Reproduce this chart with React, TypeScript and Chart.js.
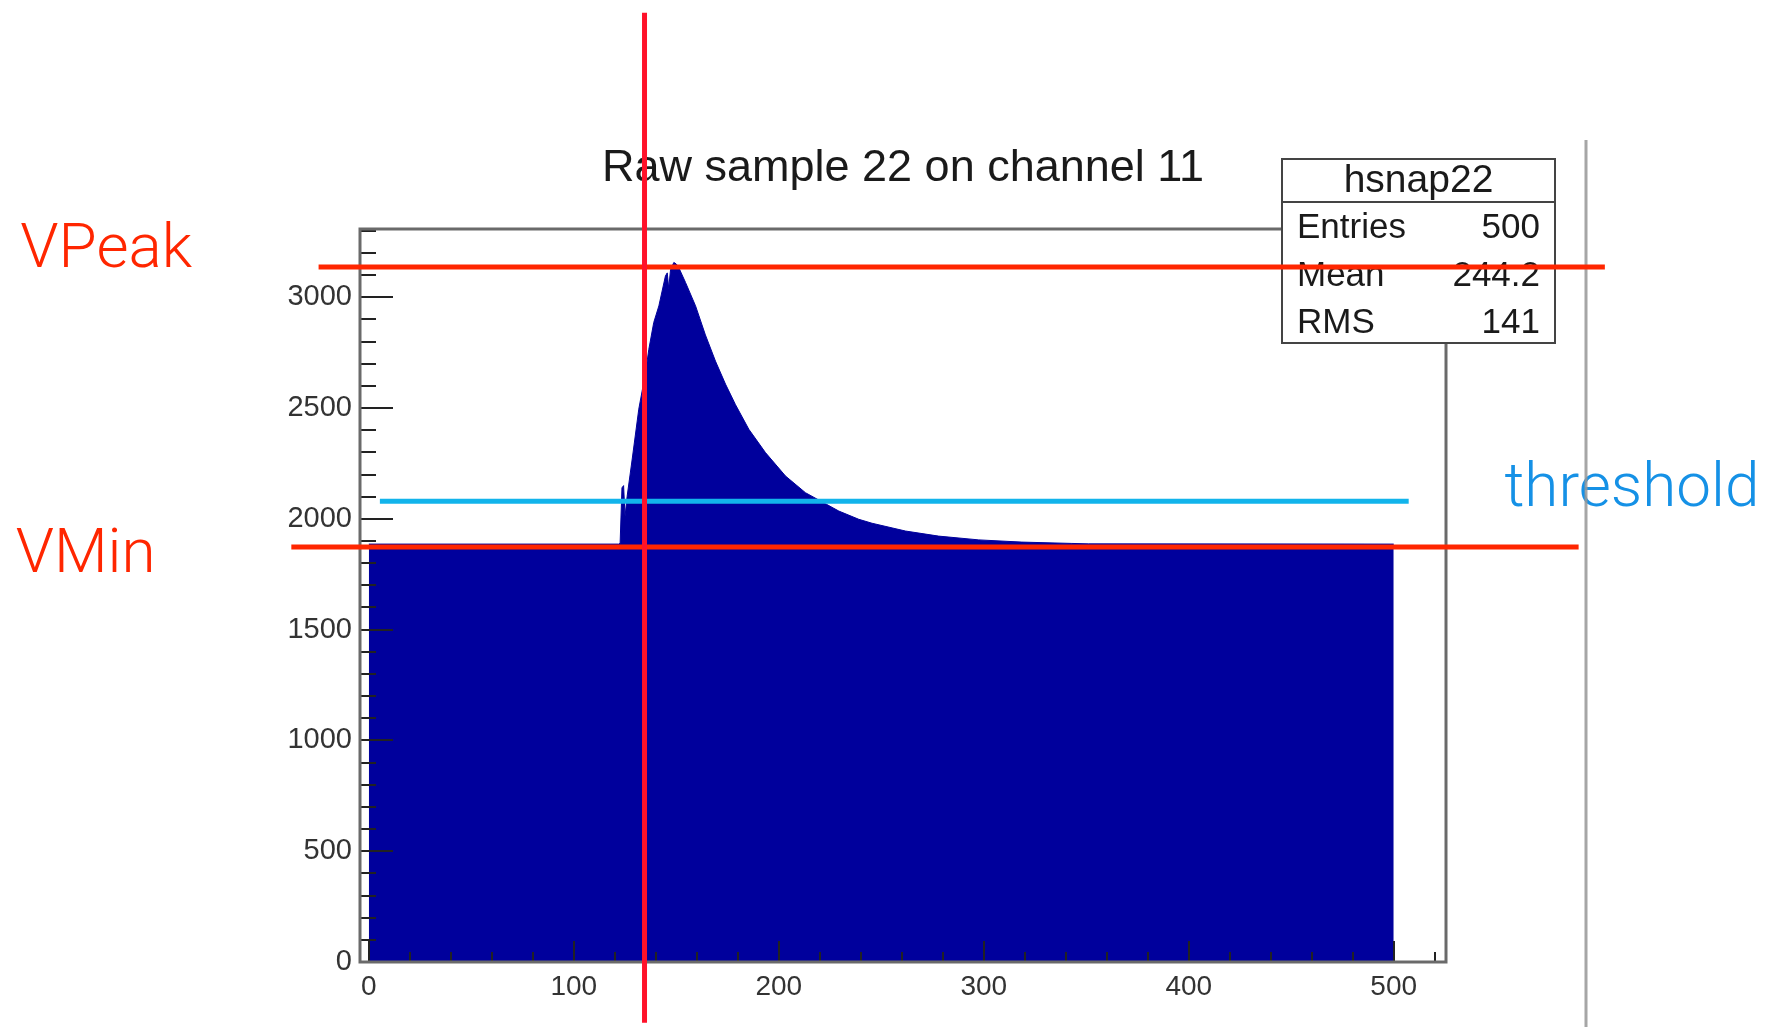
import React, { useEffect, useRef } from 'react';
import { Chart, registerables } from 'chart.js';

Chart.register(...registerables);

// ---- data (sample index vs ADC counts) ----
const sampleX = [
  0, 122, 122.6, 123.5, 124.3, 125, 126, 128.5, 131.7, 135, 136.6, 139, 141.5,
  144.7, 145.6, 146.3, 147.2, 148.8, 150, 151.2, 154.5, 159.4, 164.2, 169.1,
  174, 178.9, 185.4, 193.5, 203.3, 213, 222.8, 229.3, 239, 245.5, 261.8, 278,
  297.6, 318.6, 343, 351, 500,
];
const adcCounts = [
  1886, 1886, 1890, 2140, 2150, 2010, 2100, 2270, 2495, 2660, 2765, 2886, 2961,
  3096, 3110, 3040, 3125, 3157, 3150, 3134, 3067, 2961, 2830, 2712, 2608, 2515,
  2404, 2299, 2193, 2118, 2068, 2035, 1998, 1980, 1945, 1922, 1905, 1895, 1889,
  1887, 1886,
];

const xRange = [-4.3, 525.5];
const yRange = [0, 3308];
const xMinorStep = 20;
const yMinorStep = 100;
const xTickLabels = [0, 100, 200, 300, 400, 500];
const yTickLabels = [0, 500, 1000, 1500, 2000, 2500, 3000];

const chartTitle = 'Raw sample 22 on channel 11';
const statsTitle = 'hsnap22';
const statsNames = ['Entries', 'Mean', 'RMS'];
const statsValues = ['500', '244.2', '141'];

// annotation levels (data units)
const vPeakLevel = 3136;
const vMinLevel = 1873;
const thresholdLevel = 2079;
const peakSample = 134.5;
// extents of the hand-drawn annotation lines (data units)
const vPeakSpan = [-24.5, 603];
const vMinSpan = [-37.8, 590.2];
const thresholdSpan = [5.4, 507.3];
const peakSampleSpan = [-274, 4284];
// annotation label anchors (data units)
const labelNames = ['VPeak', 'VMin', 'threshold'];
const labelX = [-170, -172.3, 554];
const labelY = [3136, 1758, 2059];

const HIST_BLUE = '#00009c';
const RED_H = 'rgb(255,38,0)';
const RED_V = 'rgb(255,18,42)';
const CYAN = 'rgb(18,180,235)';
const LABEL_BLUE = 'rgb(21,145,230)';
const SANS = '"Liberation Sans", Arial, Helvetica, sans-serif';
const LIGHT = '300 62px Roboto, "Open Sans", Lato, sans-serif';

const isMult = (v: number, s: number) => Math.abs(v / s - Math.round(v / s)) < 1e-6;

const stepTicks = (s: any, step: number) => {
  const out: any[] = [];
  const start = Math.ceil(s.min / step - 1e-9);
  const end = Math.floor(s.max / step + 1e-9);
  for (let k = start; k <= end; k++) out.push({ value: k * step });
  s.ticks = out;
};

const rootPlugin = {
  id: 'rootStyle',
  afterDatasetsDraw(chart: any) {
    const { ctx, chartArea: a, scales } = chart;
    const x = scales.x;
    const y = scales.y;
    ctx.save();
    ctx.strokeStyle = '#222';
    ctx.lineWidth = 2;
    y.ticks.forEach((t: any) => {
      const py = Math.round(y.getPixelForValue(t.value));
      const len = isMult(t.value, 500) ? 33 : 16;
      ctx.beginPath();
      ctx.moveTo(a.left, py);
      ctx.lineTo(a.left + len, py);
      ctx.stroke();
    });
    x.ticks.forEach((t: any) => {
      const px = Math.round(x.getPixelForValue(t.value));
      const len = isMult(t.value, 100) ? 21 : 10;
      ctx.beginPath();
      ctx.moveTo(px, a.bottom);
      ctx.lineTo(px, a.bottom - len);
      ctx.stroke();
    });
    // frame
    ctx.strokeStyle = '#6a6a6a';
    ctx.lineWidth = 3;
    ctx.strokeRect(a.left, a.top, a.right - a.left, a.bottom - a.top);
    ctx.restore();
  },
  afterDraw(chart: any) {
    const { ctx, chartArea: a, scales } = chart;
    const x = scales.x;
    const y = scales.y;
    ctx.save();

    // title
    ctx.fillStyle = '#1a1a1a';
    ctx.font = `45px ${SANS}`;
    ctx.textAlign = 'center';
    ctx.textBaseline = 'alphabetic';
    ctx.fillText(chartTitle, (a.left + a.right) / 2, a.top - 48);

    // stats box
    const bx = a.right - 164;
    const by = a.top - 70;
    const bw = 273;
    const bh = 184;
    ctx.fillStyle = '#fff';
    ctx.fillRect(bx, by, bw, bh);
    ctx.strokeStyle = '#444';
    ctx.lineWidth = 2;
    ctx.strokeRect(bx, by, bw, bh);
    ctx.beginPath();
    ctx.moveTo(bx, by + 43);
    ctx.lineTo(bx + bw, by + 43);
    ctx.stroke();
    ctx.fillStyle = '#1a1a1a';
    ctx.font = `39px ${SANS}`;
    ctx.textAlign = 'center';
    ctx.fillText(statsTitle, bx + bw / 2, by + 33);
    ctx.font = `35px ${SANS}`;
    statsNames.forEach((n, i) => {
      const base = by + 79 + i * 47.5;
      ctx.textAlign = 'left';
      ctx.fillText(n, bx + 15, base);
      ctx.textAlign = 'right';
      ctx.fillText(statsValues[i], bx + bw - 15, base);
    });

    // annotation labels
    ctx.font = LIGHT;
    ctx.textAlign = 'left';
    ctx.textBaseline = 'alphabetic';
    labelNames.forEach((n, i) => {
      ctx.fillStyle = i === 2 ? LABEL_BLUE : RED_H;
      ctx.fillText(n, x.getPixelForValue(labelX[i]), y.getPixelForValue(labelY[i]));
    });

    // outer gray pad edge
    ctx.strokeStyle = 'rgba(150,150,150,0.85)';
    ctx.lineWidth = 3;
    ctx.beginPath();
    ctx.moveTo(a.right + 140, by - 19);
    ctx.lineTo(a.right + 140, chart.height);
    ctx.stroke();

    // annotation lines
    const hLine = (level: number, span: number[], color: string) => {
      const py = y.getPixelForValue(level);
      ctx.strokeStyle = color;
      ctx.lineWidth = 5;
      ctx.beginPath();
      ctx.moveTo(x.getPixelForValue(span[0]), py);
      ctx.lineTo(x.getPixelForValue(span[1]), py);
      ctx.stroke();
    };
    hLine(thresholdLevel, thresholdSpan, CYAN);
    hLine(vPeakLevel, vPeakSpan, RED_H);
    hLine(vMinLevel, vMinSpan, RED_H);
    const px = x.getPixelForValue(peakSample);
    ctx.strokeStyle = RED_V;
    ctx.lineWidth = 5;
    ctx.beginPath();
    ctx.moveTo(px, y.getPixelForValue(peakSampleSpan[1]));
    ctx.lineTo(px, y.getPixelForValue(peakSampleSpan[0]));
    ctx.stroke();

    ctx.restore();
  },
};

export default function App() {
  const ref = useRef<HTMLCanvasElement>(null);
  useEffect(() => {
    if (!ref.current) return;
    const points = sampleX.map((v, i) => ({ x: v, y: adcCounts[i] }));
    const chart = new Chart(ref.current, {
      type: 'line',
      data: {
        datasets: [
          {
            label: statsTitle,
            data: points,
            borderColor: HIST_BLUE,
            backgroundColor: HIST_BLUE,
            borderWidth: 1,
            pointRadius: 0,
            tension: 0,
            fill: 'origin',
          },
        ],
      },
      options: {
        animation: false,
        responsive: false,
        devicePixelRatio: 1,
        layout: { padding: { left: 260, right: 322, top: 229, bottom: 0 } },
        plugins: { legend: { display: false }, title: { display: false }, tooltip: { enabled: false } },
        scales: {
          x: {
            type: 'linear',
            min: xRange[0],
            max: xRange[1],
            grid: { display: false, drawTicks: false },
            border: { display: false },
            ticks: {
              autoSkip: false,
              maxRotation: 0,
              padding: 8,
              color: '#333',
              font: { family: 'Liberation Sans', size: 28 },
              callback: (v: any) => (xTickLabels.includes(Math.round(Number(v))) && isMult(Number(v), 100) ? String(Math.round(Number(v))) : ''),
            },
            afterBuildTicks: (s: any) => stepTicks(s, xMinorStep),
            afterFit: (s: any) => {
              s.height = 65;
            },
          },
          y: {
            type: 'linear',
            min: yRange[0],
            max: yRange[1],
            grid: { display: false, drawTicks: false },
            border: { display: false },
            ticks: {
              autoSkip: false,
              padding: 8,
              color: '#333',
              font: { family: 'Liberation Sans', size: 29 },
              callback: (v: any) => (yTickLabels.includes(Math.round(Number(v))) && isMult(Number(v), 500) ? String(Math.round(Number(v))) : ''),
            },
            afterBuildTicks: (s: any) => stepTicks(s, yMinorStep),
            afterFit: (s: any) => {
              s.width = 100;
            },
          },
        },
      },
      plugins: [rootPlugin],
    });
    return () => chart.destroy();
  }, []);
  return (
    <div style={{ position: 'absolute', left: 0, top: 0, width: 1768, height: 1027, background: '#fff' }}>
      <canvas ref={ref} width={1768} height={1027} style={{ display: 'block' }} />
    </div>
  );
}
